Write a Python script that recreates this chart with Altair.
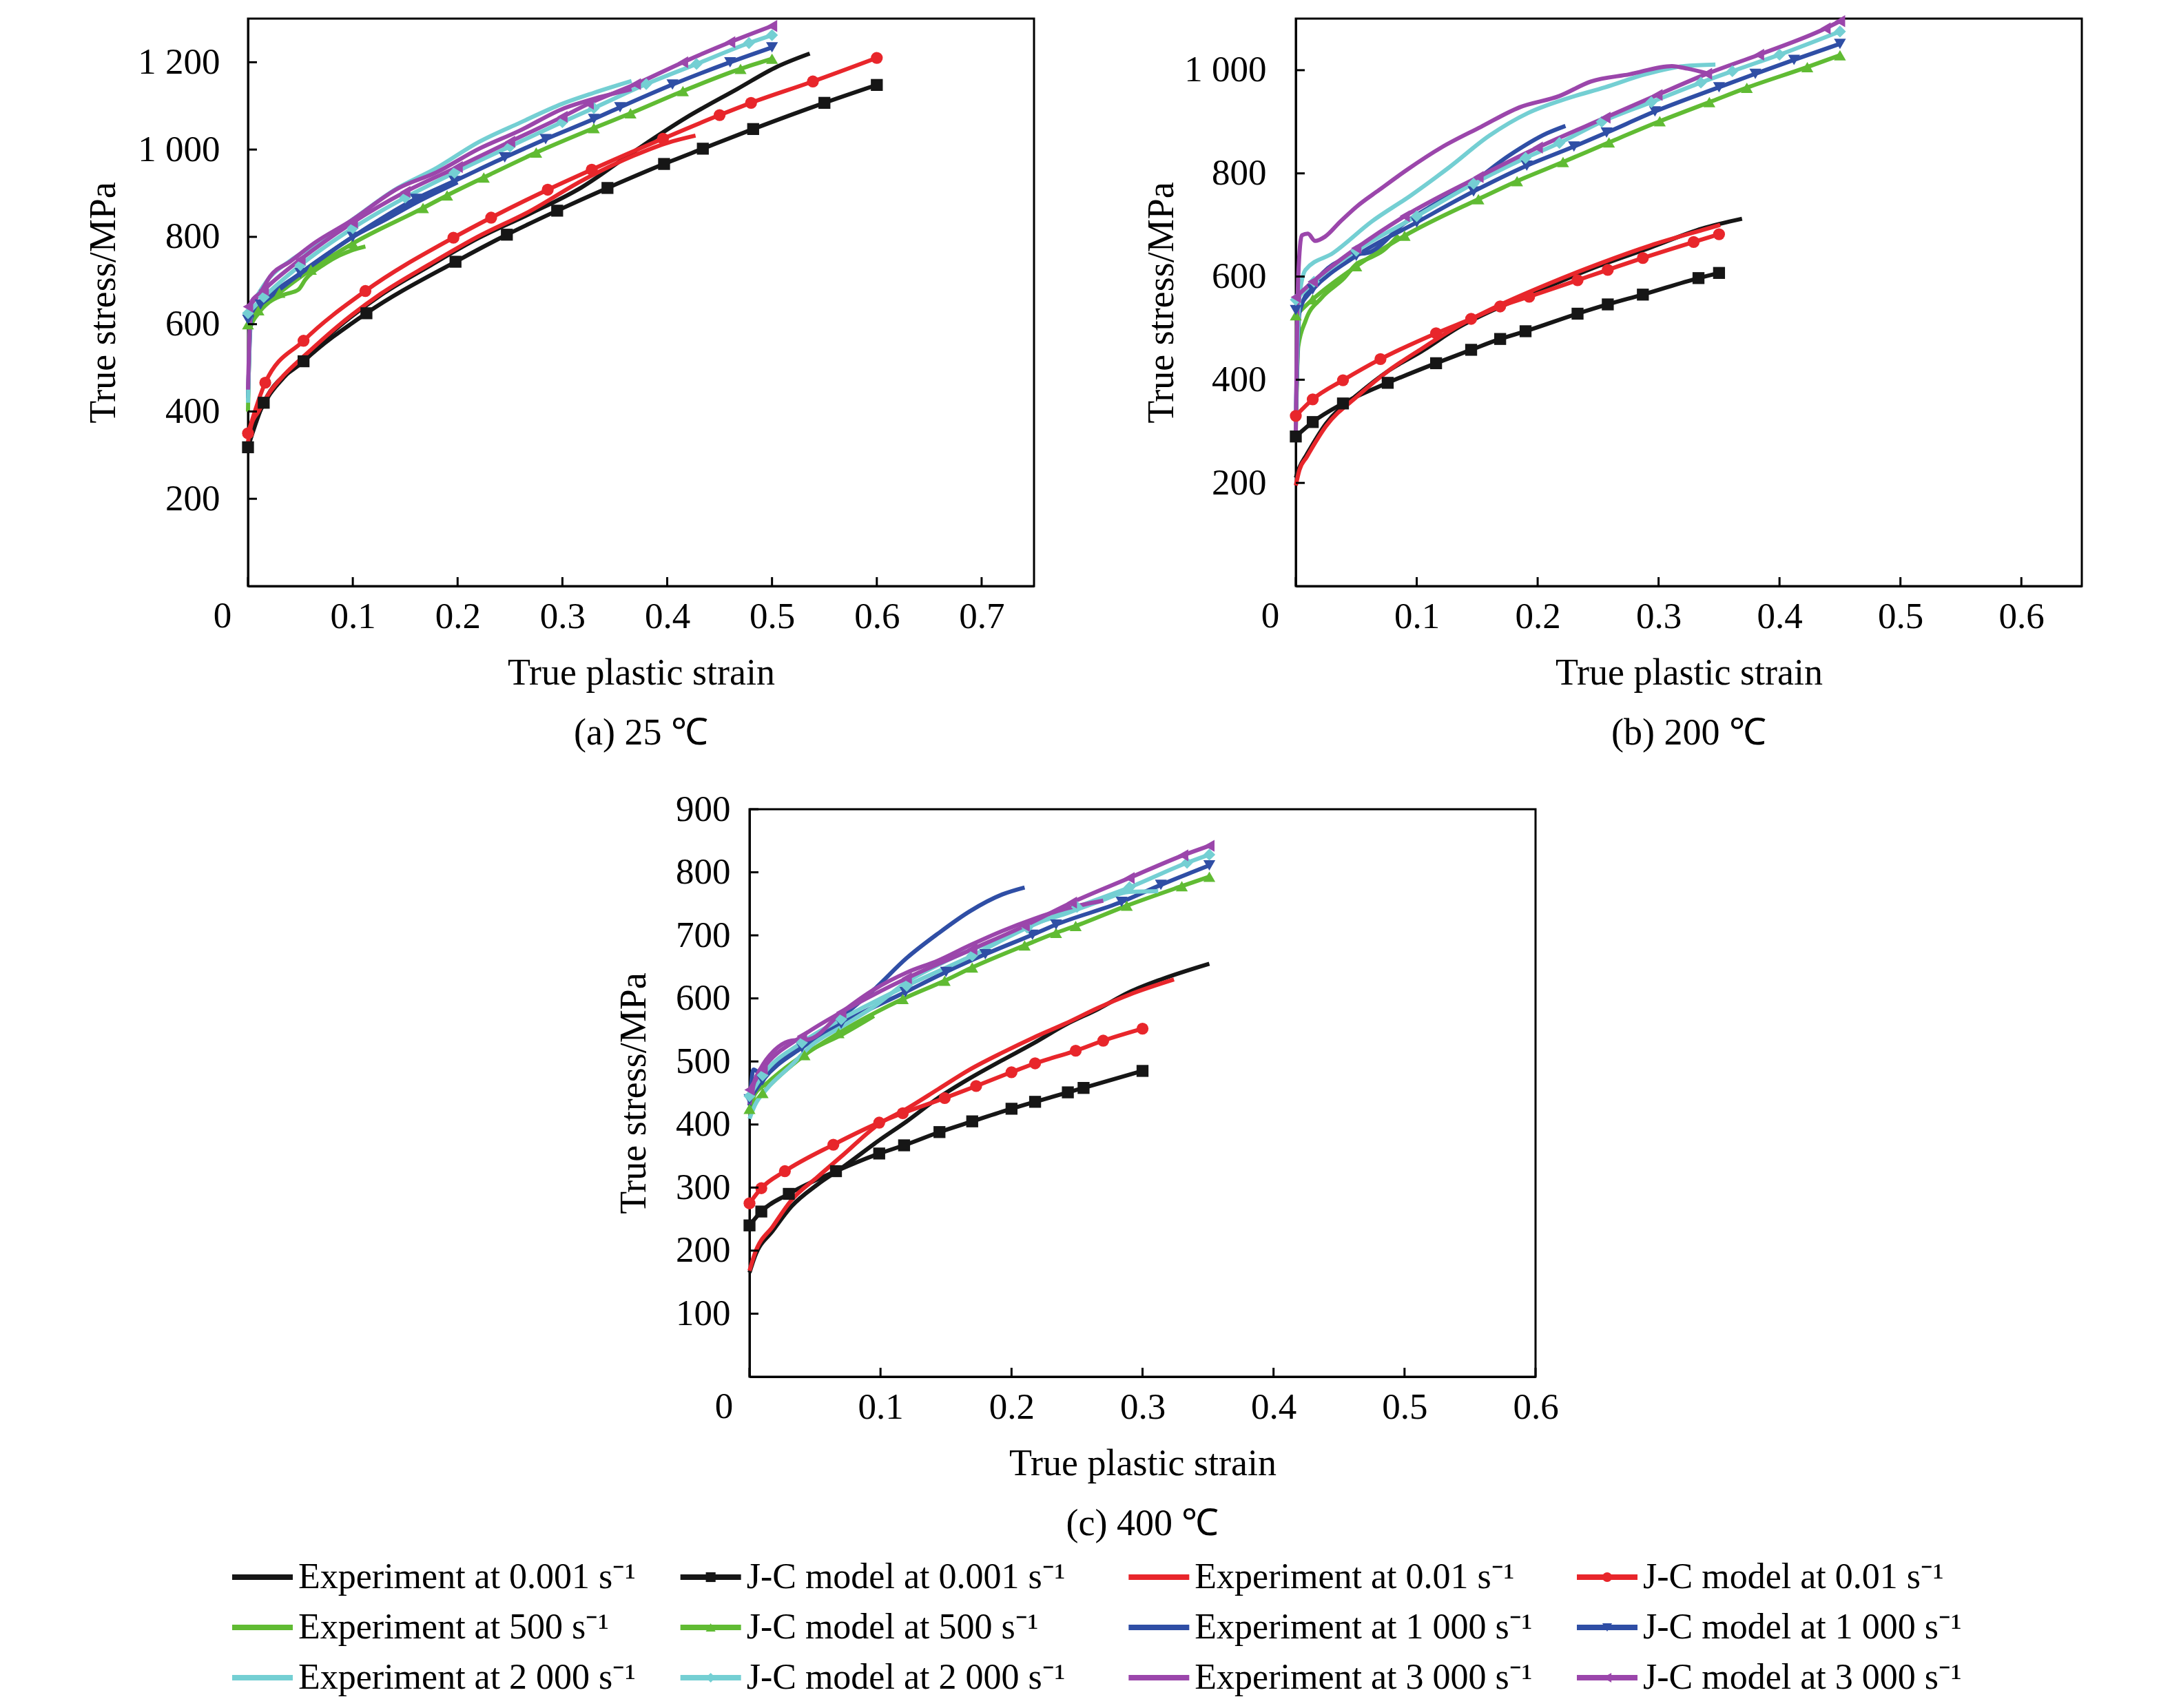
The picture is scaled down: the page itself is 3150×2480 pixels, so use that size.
import altair as alt
import pandas as pd

FONT = "Liberation Serif"

# ---------------- series definitions ----------------
RATE_KEYS = ["0.001", "0.01", "500", "1000", "2000", "3000"]
RATE_TEXT = ["0.001", "0.01", "500", "1 000", "2 000", "3 000"]
RATE_COLORS = ["#161616", "#e8262b", "#60bb33", "#2f4ea5", "#74cfd3", "#9b46ab"]
JC_SHAPES = ["square", "circle", "triangle-up", "triangle-down", "diamond", "triangle-left"]

# ---------------- panel (a) 25 C ----------------
A_EXP_0001_X = [0, 0.003, 0.01, 0.021, 0.035, 0.054, 0.087, 0.127, 0.173, 0.219, 0.269, 0.318, 0.368, 0.418, 0.467, 0.505, 0.536]
A_EXP_0001_Y = [315, 360, 395, 440, 480, 524, 595, 667, 733, 796, 853, 913, 995, 1073, 1139, 1190, 1220]
A_JC_0001_X = [0, 0.015, 0.053, 0.113, 0.198, 0.247, 0.295, 0.343, 0.397, 0.434, 0.482, 0.55, 0.6]
A_JC_0001_Y = [318, 420, 515, 625, 743, 805, 860, 912, 967, 1002, 1047, 1107, 1148]
A_EXP_001_X = [0, 0.003, 0.01, 0.021, 0.035, 0.054, 0.087, 0.127, 0.173, 0.219, 0.269, 0.318, 0.368, 0.401, 0.427]
A_EXP_001_Y = [330, 368, 400, 445, 485, 528, 598, 670, 737, 800, 859, 928, 986, 1016, 1032]
A_JC_001_X = [0, 0.0165, 0.053, 0.112, 0.196, 0.232, 0.286, 0.328, 0.396, 0.45, 0.48, 0.539, 0.6]
A_JC_001_Y = [350, 466, 562, 676, 798, 844, 908, 954, 1025, 1079, 1107, 1156, 1210]
A_EXP_500_X = [0, 0.002, 0.01, 0.02, 0.035, 0.048, 0.055, 0.074, 0.087, 0.1, 0.112]
A_EXP_500_Y = [400, 590, 625, 650, 668, 679, 703, 739, 757, 770, 778]
A_JC_500_X = [0, 0.01, 0.03, 0.06, 0.1, 0.167, 0.19, 0.225, 0.275, 0.33, 0.365, 0.415, 0.47, 0.5]
A_JC_500_Y = [600, 632, 672, 725, 785, 866, 895, 936, 993, 1049, 1083, 1134, 1185, 1208]
A_EXP_1000_X = [0, 0.003, 0.01, 0.02, 0.04, 0.07, 0.1, 0.13, 0.16, 0.2]
A_EXP_1000_Y = [430, 615, 640, 660, 698, 750, 800, 838, 878, 925]
A_JC_1000_X = [0, 0.012, 0.05, 0.1, 0.16, 0.197, 0.245, 0.284, 0.33, 0.355, 0.405, 0.46, 0.5]
A_JC_1000_Y = [610, 645, 717, 800, 887, 928, 982, 1024, 1070, 1097, 1149, 1200, 1234]
A_EXP_2000_X = [0, 0.003, 0.01, 0.02, 0.04, 0.07, 0.1, 0.14, 0.18, 0.22, 0.26, 0.3, 0.33, 0.366]
A_EXP_2000_Y = [420, 640, 670, 705, 745, 790, 840, 908, 958, 1017, 1062, 1105, 1130, 1157]
A_JC_2000_X = [0, 0.015, 0.05, 0.1, 0.15, 0.197, 0.25, 0.3, 0.33, 0.38, 0.428, 0.478, 0.5]
A_JC_2000_Y = [625, 662, 735, 820, 890, 947, 1007, 1063, 1095, 1150, 1196, 1244, 1262]
A_EXP_3000_X = [0, 0.003, 0.012, 0.021, 0.041, 0.064, 0.097, 0.144, 0.18, 0.219, 0.259, 0.302, 0.328, 0.366]
A_EXP_3000_Y = [450, 650, 673, 709, 745, 787, 835, 912, 948, 1000, 1043, 1095, 1115, 1138]
A_JC_3000_X = [0, 0.015, 0.05, 0.1, 0.15, 0.2, 0.25, 0.3, 0.325, 0.37, 0.415, 0.46, 0.5]
A_JC_3000_Y = [640, 678, 748, 833, 903, 960, 1018, 1075, 1105, 1150, 1200, 1246, 1283]

# ---------------- panel (b) 200 C ----------------
B_EXP_0001_X = [0, 0.003, 0.009, 0.025, 0.051, 0.077, 0.104, 0.135, 0.167, 0.209, 0.251, 0.293, 0.336, 0.369]
B_EXP_0001_Y = [210, 230, 255, 315, 371, 418, 455, 502, 539, 581, 621, 656, 693, 712]
B_JC_0001_X = [0, 0.014, 0.039, 0.076, 0.116, 0.145, 0.169, 0.19, 0.233, 0.258, 0.287, 0.333, 0.35]
B_JC_0001_Y = [290, 318, 354, 394, 432, 458, 479, 494, 528, 546, 565, 597, 607]
B_EXP_001_X = [0, 0.003, 0.009, 0.025, 0.051, 0.077, 0.104, 0.135, 0.167, 0.209, 0.251, 0.293, 0.336, 0.351]
B_EXP_001_Y = [195, 225, 250, 310, 368, 418, 460, 505, 543, 586, 625, 660, 690, 700]
B_JC_001_X = [0, 0.014, 0.039, 0.07, 0.116, 0.145, 0.169, 0.193, 0.233, 0.258, 0.287, 0.329, 0.35]
B_JC_001_Y = [330, 362, 399, 440, 490, 518, 542, 561, 593, 613, 636, 667, 682]
B_EXP_500_X = [0, 0.002, 0.008, 0.021, 0.04, 0.05, 0.06, 0.072, 0.085]
B_EXP_500_Y = [300, 464, 514, 558, 597, 624, 635, 650, 680]
B_JC_500_X = [0, 0.014, 0.05, 0.09, 0.151, 0.183, 0.221, 0.259, 0.301, 0.342, 0.373, 0.423, 0.45]
B_JC_500_Y = [525, 556, 620, 679, 750, 785, 822, 860, 901, 938, 966, 1006, 1029]
B_EXP_1000_X = [0, 0.003, 0.015, 0.047, 0.062, 0.089, 0.111, 0.144, 0.176, 0.208, 0.223]
B_EXP_1000_Y = [320, 530, 586, 641, 648, 702, 735, 779, 834, 878, 892]
B_JC_1000_X = [0, 0.014, 0.05, 0.1, 0.147, 0.191, 0.23, 0.257, 0.297, 0.35, 0.38, 0.412, 0.45]
B_JC_1000_Y = [535, 575, 640, 705, 765, 815, 852, 879, 920, 967, 993, 1020, 1051]
B_EXP_2000_X = [0, 0.003, 0.008, 0.031, 0.063, 0.095, 0.127, 0.16, 0.192, 0.224, 0.256, 0.289, 0.321, 0.347]
B_EXP_2000_Y = [330, 560, 613, 646, 707, 757, 812, 873, 917, 945, 967, 992, 1008, 1011]
B_JC_2000_X = [0, 0.015, 0.05, 0.1, 0.147, 0.19, 0.218, 0.253, 0.294, 0.335, 0.361, 0.4, 0.45]
B_JC_2000_Y = [555, 590, 650, 717, 780, 830, 859, 900, 938, 976, 998, 1030, 1075]
B_EXP_3000_X = [0, 0.002, 0.005, 0.01, 0.016, 0.024, 0.037, 0.05, 0.069, 0.092, 0.121, 0.153, 0.185, 0.218, 0.244, 0.276, 0.311, 0.324, 0.34]
B_EXP_3000_Y = [300, 600, 680, 683, 669, 677, 707, 735, 768, 807, 851, 890, 928, 950, 978, 992, 1008, 1003, 994]
B_JC_3000_X = [0, 0.014, 0.05, 0.09, 0.151, 0.2, 0.256, 0.299, 0.34, 0.383, 0.438, 0.45]
B_JC_3000_Y = [560, 590, 655, 717, 793, 850, 908, 952, 993, 1030, 1081, 1095]

# ---------------- panel (c) 400 C ----------------
C_EXP_0001_X = [0, 0.004, 0.018, 0.032, 0.052, 0.071, 0.099, 0.12, 0.144, 0.168, 0.193, 0.217, 0.241, 0.266, 0.29, 0.314, 0.351]
C_EXP_0001_Y = [165, 190, 232, 270, 305, 332, 375, 405, 442, 473, 502, 529, 558, 583, 610, 630, 655]
C_JC_0001_X = [0, 0.009, 0.03, 0.066, 0.099, 0.118, 0.145, 0.17, 0.2, 0.218, 0.243, 0.255, 0.3]
C_JC_0001_Y = [240, 262, 290, 326, 354, 367, 388, 405, 425, 436, 451, 458, 485]
C_EXP_001_X = [0, 0.004, 0.018, 0.032, 0.052, 0.071, 0.099, 0.12, 0.144, 0.168, 0.193, 0.217, 0.241, 0.266, 0.29, 0.324]
C_EXP_001_Y = [168, 195, 239, 280, 317, 351, 401, 425, 456, 487, 514, 538, 560, 585, 606, 630]
C_JC_001_X = [0, 0.009, 0.027, 0.064, 0.099, 0.117, 0.149, 0.173, 0.2, 0.218, 0.249, 0.27, 0.3]
C_JC_001_Y = [275, 299, 326, 368, 403, 418, 442, 461, 483, 497, 517, 533, 552]
C_EXP_500_X = [0, 0.004, 0.013, 0.032, 0.047, 0.071, 0.095]
C_EXP_500_Y = [420, 448, 465, 497, 518, 543, 572]
C_JC_500_X = [0, 0.01, 0.042, 0.068, 0.117, 0.149, 0.17, 0.21, 0.234, 0.249, 0.288, 0.33, 0.351]
C_JC_500_Y = [425, 450, 510, 545, 599, 628, 649, 684, 704, 715, 747, 778, 793]
C_EXP_1000_X = [0, 0.003, 0.01, 0.022, 0.047, 0.071, 0.095, 0.12, 0.144, 0.168, 0.193, 0.21]
C_EXP_1000_Y = [430, 487, 478, 502, 537, 572, 614, 664, 703, 738, 765, 776]
C_JC_1000_X = [0, 0.01, 0.04, 0.07, 0.119, 0.15, 0.18, 0.216, 0.234, 0.284, 0.314, 0.351]
C_JC_1000_Y = [440, 470, 522, 560, 610, 642, 670, 701, 717, 753, 780, 811]
C_EXP_2000_X = [0, 0.004, 0.013, 0.032, 0.047, 0.071, 0.095, 0.12, 0.144, 0.168, 0.193, 0.217, 0.241, 0.266, 0.29, 0.312]
C_EXP_2000_Y = [409, 430, 456, 494, 525, 556, 587, 626, 653, 676, 695, 718, 734, 753, 769, 770]
C_JC_2000_X = [0, 0.01, 0.04, 0.07, 0.12, 0.17, 0.212, 0.25, 0.29, 0.334, 0.351]
C_JC_2000_Y = [445, 478, 530, 567, 620, 668, 712, 745, 776, 815, 828]
C_EXP_3000_X = [0, 0.004, 0.008, 0.022, 0.032, 0.045, 0.071, 0.095, 0.12, 0.144, 0.168, 0.193, 0.217, 0.241, 0.27]
C_EXP_3000_Y = [432, 470, 487, 523, 533, 535, 579, 614, 641, 660, 684, 707, 726, 742, 755]
C_JC_3000_X = [0, 0.01, 0.04, 0.07, 0.12, 0.17, 0.21, 0.246, 0.29, 0.331, 0.351]
C_JC_3000_Y = [455, 488, 540, 578, 632, 678, 715, 752, 791, 827, 842]

# ---------------- axes ----------------
A_XTICKS = [0, 0.1, 0.2, 0.3, 0.4, 0.5, 0.6, 0.7]
A_YTICKS = [200, 400, 600, 800, 1000, 1200]
B_XTICKS = [0, 0.1, 0.2, 0.3, 0.4, 0.5, 0.6]
B_YTICKS = [200, 400, 600, 800, 1000]
C_XTICKS = [0, 0.1, 0.2, 0.3, 0.4, 0.5, 0.6]
C_YTICKS = [100, 200, 300, 400, 500, 600, 700, 800, 900]
ORIGIN_LABEL = ["0"]

SUP = " s\u207b\u00b9"
SERIES, SERIES_COLORS, JC_SERIES = [], [], []
for k, t, c in zip(RATE_KEYS, RATE_TEXT, RATE_COLORS):
    SERIES += ["Experiment at " + t + SUP, "J-C model at " + t + SUP]
    SERIES_COLORS += [c, c]
    JC_SERIES.append("J-C model at " + t + SUP)

PW, PH = 1141, 824
TICK = 13
LABEL_PAD = 18


def build_df(prefix):
    rows = []
    for i, (k, t) in enumerate(zip(RATE_KEYS, RATE_TEXT)):
        key = k.replace(".", "")
        for kind, label in (("EXP", "Experiment at "), ("JC", "J-C model at ")):
            xs = globals()[f"{prefix}_{kind}_{key}_X"]
            ys = globals()[f"{prefix}_{kind}_{key}_Y"]
            name = label + t + SUP
            order = SERIES.index(name)
            for x, y in zip(xs, ys):
                rows.append({"x": x, "y": y, "series": name, "kind": kind, "o": order})
    return pd.DataFrame(rows)


def panel(prefix, xdom, xticks, ydom, yticks, caption, ylabpad, ytitlex):
    df = build_df(prefix)
    xs = alt.Scale(domain=xdom, nice=False, zero=False)
    ys = alt.Scale(domain=ydom, nice=False, zero=False)
    xaxis = alt.Axis(values=xticks, title="True plastic strain", ticks=False, tickSize=0,
                     labelFlush=False, labelPadding=LABEL_PAD, labelOverlap=False,
                     labelExpr="datum.value == 0 ? '' : datum.label",
                     titleY=126, titleBaseline="middle")
    yaxis = alt.Axis(values=yticks, title="True stress/MPa", ticks=False, tickSize=0,
                     labelFlush=False, labelPadding=ylabpad, labelOverlap=False,
                     labelExpr="replace(format(datum.value, ','), ',', ' ')",
                     titleX=ytitlex, titleBaseline="middle")

    def X(f):
        return alt.X(f, scale=xs, axis=xaxis)

    def Y(f):
        return alt.Y(f, scale=ys, axis=yaxis)

    color = alt.Color("series:N", scale=alt.Scale(domain=SERIES, range=SERIES_COLORS), legend=None)
    lines = alt.Chart(df).mark_line(strokeWidth=6, interpolate="monotone").encode(
        x=X("x:Q"), y=Y("y:Q"), color=color, detail="series:N", order=alt.Order("x:Q"))
    pts = alt.Chart(df[df["kind"] == "JC"]).mark_point(filled=True, size=300, opacity=1).encode(
        x=X("x:Q"), y=Y("y:Q"), color=color,
        shape=alt.Shape("series:N", scale=alt.Scale(domain=JC_SERIES, range=JC_SHAPES), legend=None))
    xt = alt.Chart(pd.DataFrame({"v": xticks})).mark_rule(color="black", strokeWidth=3).encode(
        x=X("v:Q"), y=alt.value(PH), y2=alt.value(PH - TICK))
    yt = alt.Chart(pd.DataFrame({"v": yticks})).mark_rule(color="black", strokeWidth=3).encode(
        y=Y("v:Q"), x=alt.value(0), x2=alt.value(TICK))
    zero = alt.Chart(pd.DataFrame({"v": [0.0], "t": ORIGIN_LABEL})).mark_text(
        font=FONT, fontSize=53, color="black", align="center", baseline="top", dx=-37).encode(
        x=X("v:Q"), y=alt.value(PH + LABEL_PAD), text="t:N")
    return alt.layer(lines, pts, xt, yt, zero).properties(
        width=PW, height=PH,
        title=alt.TitleParams(text=caption, orient="bottom", anchor="middle", frame="group",
                              font=FONT, fontSize=54, fontWeight="normal", color="black", offset=34))


pa = panel("A", [0, 0.75], A_XTICKS, [0, 1300], A_YTICKS, "(a) 25 \u2103", 41, -210)
pb = panel("B", [0, 0.65], B_XTICKS, [0, 1100], B_YTICKS, "(b) 200 \u2103", 43, -195)
pc = panel("C", [0, 0.6], C_XTICKS, [0, 900], C_YTICKS, "(c) 400 \u2103", 28, -168)

# ---------------- legend ----------------
leg = pd.DataFrame({
    "series": SERIES,
    "kind": ["EXP", "JC"] * 6,
    "col": [i % 4 for i in range(12)],
    "row": [i // 4 for i in range(12)],
})
lx = alt.X("col:Q", scale=alt.Scale(domain=[0, 3], range=[21, 1973]), axis=None)
ly = alt.Y("row:Q", scale=alt.Scale(domain=[0, 2], range=[27, 173]), axis=None)
lcolor = alt.Color("series:N", scale=alt.Scale(domain=SERIES, range=SERIES_COLORS), legend=None)
leg_line = alt.Chart(leg).mark_point(shape="stroke", size=88 * 88, strokeWidth=8, filled=False, opacity=1).encode(
    x=lx, y=ly, color=lcolor)
leg_pt = alt.Chart(leg[leg["kind"] == "JC"]).mark_point(filled=True, size=200, opacity=1).encode(
    x=lx, y=ly, color=lcolor,
    shape=alt.Shape("series:N", scale=alt.Scale(domain=JC_SERIES, range=JC_SHAPES), legend=None))
leg_txt = alt.Chart(leg).mark_text(align="left", baseline="middle", dx=52, font=FONT, fontSize=52, color="black").encode(
    x=lx, y=ly, text="series:N")
legend = alt.layer(leg_line, leg_pt, leg_txt).properties(
    width=2500, height=185, view=alt.ViewBackground(stroke="transparent"))

spacer = alt.Chart(pd.DataFrame({"v": [0]})).mark_point(opacity=0).encode(
    x=alt.value(0), y=alt.value(0)).properties(width=529, height=10, view=alt.ViewBackground(stroke="transparent"))

top = alt.hconcat(pa, pb, spacing=154)
crow = alt.hconcat(spacer, pc, spacing=0)
bottom = alt.vconcat(crow, legend, spacing=19)

chart = alt.vconcat(top, bottom, spacing=53).properties(
    padding={"left": 113, "top": 9, "right": 0, "bottom": 0}, background="white"
).configure_view(stroke="black", strokeWidth=3).configure_axis(
    grid=False, domainColor="black", domainWidth=3,
    labelFont=FONT, labelFontSize=53, labelColor="black",
    titleFont=FONT, titleFontSize=54, titleFontWeight="normal", titleColor="black")

chart.save("out.html", embed_options={"renderer": "svg", "actions": False})
